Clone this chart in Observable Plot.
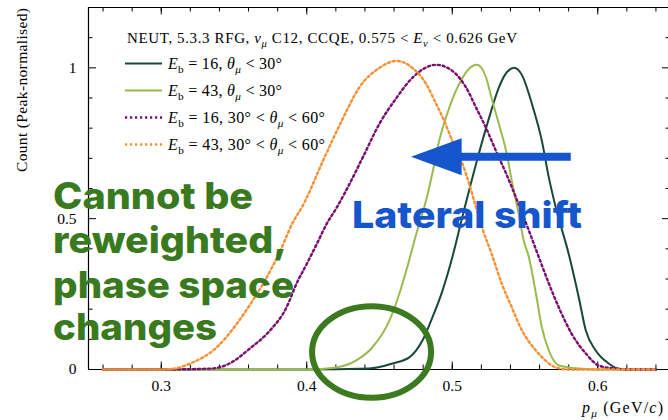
<!DOCTYPE html>
<html><head><meta charset="utf-8">
<script src="https://cdn.jsdelivr.net/npm/d3@7"></script>
<script src="https://cdn.jsdelivr.net/npm/@observablehq/plot@0.6"></script>
<style>
html,body{margin:0;padding:0;background:#fff;overflow:hidden}
svg text{white-space:pre}
</style></head><body><div id="chart"></div>
<script>
// ---------- data ----------
const legendTitle = "NEUT, 5.3.3 RFG, ν_μ C12, CCQE, 0.575 < {E}_ν < 0.626 GeV";
const seriesLabels = [
  "{E}_b = 16, θ_μ < 30°",
  "{E}_b = 43, θ_μ < 30°",
  "{E}_b = 16, 30° < θ_μ < 60°",
  "{E}_b = 43, 30° < θ_μ < 60°"
];
const seriesColors = ["#18483a", "#9bba4e", "#780f6e", "#f59132"];
const seriesDotted = [false, false, true, true];

const eb16Lt30X = [0.26,0.30,0.35,0.40,0.443,0.459,0.4705,0.4795,0.4863,0.4932,0.500,0.5068,0.5164,0.5253,0.532,0.536,0.5425,0.548,0.5548,0.5616,0.5664,0.5712,0.580,0.587,0.5918,0.5986,0.6075,0.614,0.62,0.64];
const eb16Lt30Y = [0,0,0,0,0.003,0.02,0.04,0.096,0.172,0.26,0.371,0.503,0.682,0.834,0.934,0.975,1.0,0.975,0.88,0.758,0.636,0.536,0.384,0.238,0.129,0.063,0.02,0.003,0,0];

const eb43Lt30X = [0.26,0.30,0.35,0.40,0.4205,0.434,0.445,0.4568,0.4637,0.469,0.4753,0.482,0.4863,0.491,0.498,0.5048,0.5116,0.517,0.5233,0.527,0.532,0.537,0.5413,0.5455,0.549,0.5527,0.5575,0.5616,0.5664,0.5733,0.587,0.60,0.64];
const eb43Lt30Y = [0,0,0,0,0.007,0.03,0.073,0.162,0.252,0.338,0.45,0.56,0.65,0.758,0.868,0.947,0.997,1.01,0.967,0.9,0.815,0.725,0.616,0.52,0.43,0.371,0.252,0.139,0.063,0.013,0.003,0,0];

const eb16MidX = [0.26,0.30,0.3336,0.347,0.361,0.3747,0.386,0.393,0.40,0.407,0.4137,0.4205,0.4295,0.4384,0.45,0.4616,0.4726,0.489,0.50,0.5096,0.5164,0.5233,0.530,0.537,0.5438,0.5527,0.5596,0.5664,0.5733,0.582,0.5918,0.6007,0.612,0.62,0.64];
const eb16MidY = [0,0,0.003,0.02,0.07,0.129,0.205,0.285,0.35,0.417,0.483,0.536,0.616,0.702,0.815,0.9,0.967,1.01,0.99,0.934,0.868,0.8,0.725,0.65,0.57,0.46,0.371,0.285,0.205,0.119,0.053,0.013,0.003,0,0];

const eb43MidX = [0.26,0.30,0.309,0.32,0.338,0.352,0.361,0.373,0.381,0.39,0.398,0.411,0.425,0.436,0.45,0.4616,0.4726,0.482,0.489,0.4945,0.50,0.507,0.5116,0.5164,0.5205,0.527,0.534,0.541,0.548,0.5575,0.564,0.571,0.58,0.64];
const eb43MidY = [0,0,0.003,0.02,0.073,0.152,0.215,0.31,0.385,0.483,0.55,0.69,0.834,0.934,1.0,1.023,1.0,0.947,0.88,0.824,0.758,0.682,0.616,0.536,0.47,0.384,0.285,0.205,0.129,0.063,0.03,0.007,0,0];

const seriesX = [eb16Lt30X, eb43Lt30X, eb16MidX, eb43MidX];
const seriesY = [eb16Lt30Y, eb43Lt30Y, eb16MidY, eb43MidY];

const xMajorTicks = [0.3, 0.4, 0.5, 0.6];
const xTickLabels = ["0.3", "0.4", "0.5", "0.6"];
const xMinorTicks = [0.26,0.28,0.30,0.32,0.34,0.36,0.38,0.40,0.42,0.44,0.46,0.48,0.50,0.52,0.54,0.56,0.58,0.60,0.62,0.64];
const yMajorTicks = [0, 0.5, 1];
const yTickLabels = ["0", "0.5", "1"];
const yMinorTicks = [0.1,0.2,0.3,0.4,0.6,0.7,0.8,0.9,1.1];

const xLabel = "{p}_μ (GeV/{c})";
const yLabel = "Count (Peak-normalised)";

const noteLeftLines = ["Cannot be", "reweighted,", "phase space", "changes"];
const noteLeftWidths = [200, 234, 241, 164];
const noteRight = "Lateral shift";

// ---------- plot ----------
const W = 668, H = 420;
const xDomain = [0.25, 0.65], yDomain = [0, 1.2];
const tickPxX = v => v / 1455, tickPxY = v => v / 302; // pixel length -> data units
const dotDash = "2.2,2.8", dotWidth = 2.4;
const serif = "'Liberation Serif', serif";

const lineMarks = seriesX.map((xs, i) => Plot.line(xs.map((v, k) => ({x: v, y: seriesY[i][k]})), {
  x: "x", y: "y", stroke: seriesColors[i], curve: "monotone-x",
  strokeWidth: seriesDotted[i] ? dotWidth : 2,
  strokeDasharray: seriesDotted[i] ? dotDash : null
}));

const plot = Plot.plot({
  width: W, height: H,
  marginLeft: 88, marginRight: 0, marginTop: 7, marginBottom: 51,
  x: {domain: xDomain, range: [88, 670]},
  y: {domain: yDomain, range: [369, 7]},
  style: {fontFamily: serif, fontSize: "15px", color: "#000", background: "#fff", overflow: "visible"},
  marks: [
    Plot.ruleY([yDomain[0], yDomain[1]], {stroke: "#000", strokeWidth: 1.2}),
    Plot.ruleX([xDomain[0], xDomain[1]], {stroke: "#000", strokeWidth: 1.2}),
    Plot.ruleX(xMinorTicks, {y1: 0, y2: tickPxY(4.5), stroke: "#000"}),
    Plot.ruleX(xMajorTicks, {y1: 0, y2: tickPxY(7.5), stroke: "#000"}),
    Plot.ruleX(xMinorTicks, {y1: 1.2, y2: 1.2 - tickPxY(4.5), stroke: "#000"}),
    Plot.ruleX(xMajorTicks, {y1: 1.2, y2: 1.2 - tickPxY(7.5), stroke: "#000"}),
    Plot.ruleY(yMinorTicks, {x1: 0.25, x2: 0.25 + tickPxX(4.5), stroke: "#000"}),
    Plot.ruleY(yMajorTicks, {x1: 0.25, x2: 0.25 + tickPxX(8), stroke: "#000"}),
    Plot.ruleY(yMinorTicks, {x1: 0.65, x2: 0.65 - tickPxX(4.5), stroke: "#000"}),
    Plot.ruleY(yMajorTicks, {x1: 0.65, x2: 0.65 - tickPxX(8), stroke: "#000"}),
    Plot.axisX({ticks: xMajorTicks, tickSize: 0, tickPadding: 10, tickFormat: d => xTickLabels[xMajorTicks.indexOf(d)], label: null, fontSize: 15.5}),
    Plot.axisY({ticks: yMajorTicks, tickSize: 0, tickPadding: 12, tickFormat: d => yTickLabels[yMajorTicks.indexOf(d)], label: null, fontSize: 15.5}),
    ...lineMarks
  ]
});
document.getElementById("chart").appendChild(plot);

// ---------- helpers ----------
const greek = "θμν";
function addMath(textSel, str, size) {
  const segs = [];
  let italic = false;
  const chars = [...str];
  for (let k = 0; k < chars.length; k++) {
    const c = chars[k];
    if (c === "{") { italic = true; continue; }
    if (c === "}") { italic = false; continue; }
    if (c === "_") { const s = chars[++k]; segs.push({t: s, sub: true, it: greek.includes(s)}); continue; }
    segs.push({t: c, sub: false, it: italic || greek.includes(c)});
  }
  const merged = [];
  for (const s of segs) {
    const last = merged[merged.length - 1];
    if (last && last.sub === s.sub && last.it === s.it) last.t += s.t; else merged.push({...s});
  }
  let wasSub = false;
  for (const s of merged) {
    const ts = textSel.append("tspan").text(s.t);
    if (s.it) ts.attr("font-style", "italic");
    if (s.sub) { ts.attr("font-size", size * 0.7); if (!wasSub) ts.attr("dy", size * 0.28); }
    else if (wasSub) ts.attr("dy", -size * 0.28);
    wasSub = s.sub;
  }
  return textSel;
}

const xs = plot.scale("x"), ys = plot.scale("y");
const X = v => xs.apply(v), Y = v => ys.apply(v);
const svg = d3.select(plot);

// legend (axes-relative placement)
const lg = svg.append("g").attr("font-family", serif).attr("fill", "#000").attr("text-anchor", "start");
addMath(lg.append("text").attr("font-size", 15).attr("x", 127).attr("y", 43), legendTitle, 15)
  .attr("textLength", 390).attr("lengthAdjust", "spacing");
const rowY = [63.5, 90.5, 117.5, 144.5];
const rowW = [114, 114, 157, 157];
seriesLabels.forEach((lab, i) => {
  lg.append("line").attr("x1", 125).attr("x2", 162).attr("y1", rowY[i]).attr("y2", rowY[i])
    .attr("stroke", seriesColors[i]).attr("stroke-width", seriesDotted[i] ? dotWidth : 2)
    .attr("stroke-dasharray", seriesDotted[i] ? dotDash : null);
  addMath(lg.append("text").attr("font-size", 16).attr("x", 168).attr("y", rowY[i] + 5.5), lab, 16)
    .attr("textLength", rowW[i]).attr("lengthAdjust", "spacing");
});

// axis titles
addMath(svg.append("text").attr("font-family", serif).attr("font-size", 16)
  .attr("text-anchor", "start").attr("x", 582).attr("y", 413), xLabel, 16)
  .attr("textLength", 81).attr("lengthAdjust", "spacing");
svg.append("text").attr("font-family", serif).attr("font-size", 15.5)
  .attr("text-anchor", "start").attr("transform", "translate(27,172) rotate(-90)")
  .attr("textLength", 164).attr("lengthAdjust", "spacing").text(yLabel);

// annotations (data coordinates through the plot scales)
const noteFont = "Inter, 'Open Sans', sans-serif";
const noteLeftX = 0.226, noteLeftY = [0.530, 0.384, 0.235, 0.096];
noteLeftLines.forEach((t, i) => {
  svg.append("text").attr("text-anchor", "start").attr("x", X(noteLeftX)).attr("y", Y(noteLeftY[i]))
    .attr("font-family", noteFont).attr("font-weight", 800).attr("font-size", 37)
    .attr("fill", "#3a7a1e").attr("textLength", noteLeftWidths[i]).attr("lengthAdjust", "spacingAndGlyphs").text(t);
});
svg.append("text").attr("text-anchor", "start").attr("x", X(0.4315)).attr("y", Y(0.467))
  .attr("font-family", noteFont).attr("font-weight", 800).attr("font-size", 37)
  .attr("fill", "#1556cc").attr("textLength", 230).attr("lengthAdjust", "spacingAndGlyphs").text(noteRight);

// arrow
const arrTail = 0.5818, arrBase = 0.5068, arrTip = 0.472, arrY = 0.7036, shaftH = 0.0132, headH = 0.0613;
svg.append("polygon").attr("fill", "#1556cc").attr("points", [
  [X(arrTail), Y(arrY + shaftH)], [X(arrBase), Y(arrY + shaftH)], [X(arrBase), Y(arrY + headH)],
  [X(arrTip), Y(arrY)], [X(arrBase), Y(arrY - headH)], [X(arrBase), Y(arrY - shaftH)], [X(arrTail), Y(arrY - shaftH)]
].map(p => p.join(",")).join(" "));

// ellipse
const ellCx = 0.4449, ellCy = 0.0563, ellRx = 0.0409, ellRy = 0.152;
svg.append("ellipse").attr("cx", X(ellCx)).attr("cy", Y(ellCy))
  .attr("rx", X(ellCx + ellRx) - X(ellCx)).attr("ry", Y(ellCy) - Y(ellCy + ellRy))
  .attr("fill", "none").attr("stroke", "#3c7a1f").attr("stroke-width", 6);
</script></body></html>
